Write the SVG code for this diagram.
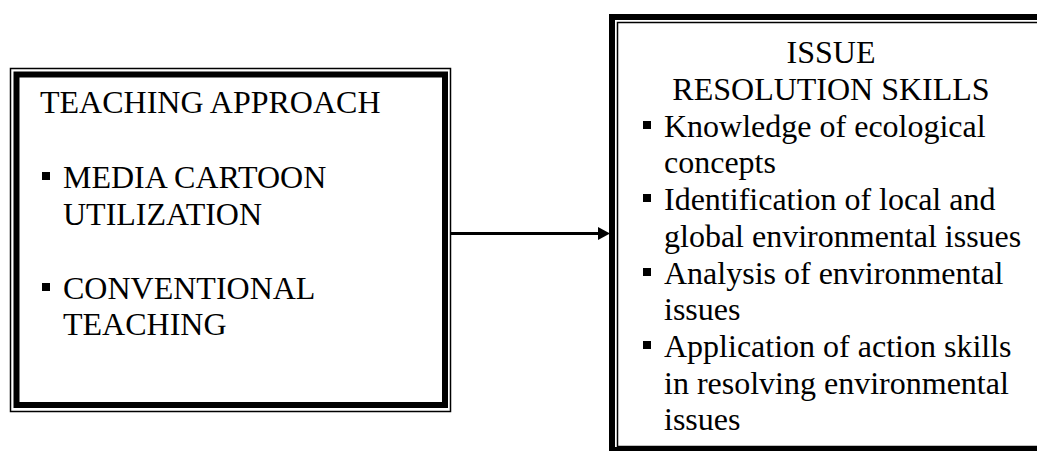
<svg xmlns="http://www.w3.org/2000/svg" width="1037" height="451" viewBox="0 0 1037 451">
<style>
.t{font-family:"Liberation Serif","Times New Roman",serif;font-size:32px;fill:#000}
.thin{fill:none;stroke:#000;stroke-width:1.5}
.thick{fill:none;stroke:#000;stroke-width:6}
.b{fill:#000}
</style>
<rect width="1037" height="451" fill="#fff"/>
<g id="teaching-approach">
<rect class="thin" x="10.5" y="68.5" width="440" height="343"/>
<rect class="thick" x="16.5" y="74.5" width="428.5" height="330.5"/>
<text class="t" x="40" y="113">TEACHING APPROACH</text>
<rect class="b" x="42" y="172" width="8" height="8"/>
<text class="t" x="63" y="188">MEDIA CARTOON</text>
<text class="t" x="63" y="225">UTILIZATION</text>
<rect class="b" x="42" y="283" width="8" height="8"/>
<text class="t" x="63" y="299">CONVENTIONAL</text>
<text class="t" x="63" y="335">TEACHING</text>
</g>
<g id="issue-resolution-skills">
<rect class="thick" x="612" y="17" width="440" height="433"/>
<rect class="thin" x="617.5" y="22.5" width="430" height="424"/>
<text class="t" x="831" y="63" text-anchor="middle">ISSUE</text>
<text class="t" x="831" y="100" text-anchor="middle">RESOLUTION SKILLS</text>
<rect class="b" x="643" y="121" width="8" height="8"/>
<text class="t" x="664" y="137">Knowledge of ecological</text>
<text class="t" x="664" y="173">concepts</text>
<rect class="b" x="643" y="194" width="8" height="8"/>
<text class="t" x="664" y="210">Identification of local and</text>
<text class="t" x="664" y="247">global environmental issues</text>
<rect class="b" x="643" y="268" width="8" height="8"/>
<text class="t" x="664" y="284">Analysis of environmental</text>
<text class="t" x="664" y="320">issues</text>
<rect class="b" x="643" y="341" width="8" height="8"/>
<text class="t" x="664" y="357">Application of action skills</text>
<text class="t" x="664" y="394">in resolving environmental</text>
<text class="t" x="664" y="430">issues</text>
</g>
<g id="connectors">
<line x1="451" y1="233.5" x2="600" y2="233.5" stroke="#000" stroke-width="3"/>
<polygon points="598,227 610,233.5 598,240" fill="#000"/>
</g>
</svg>
